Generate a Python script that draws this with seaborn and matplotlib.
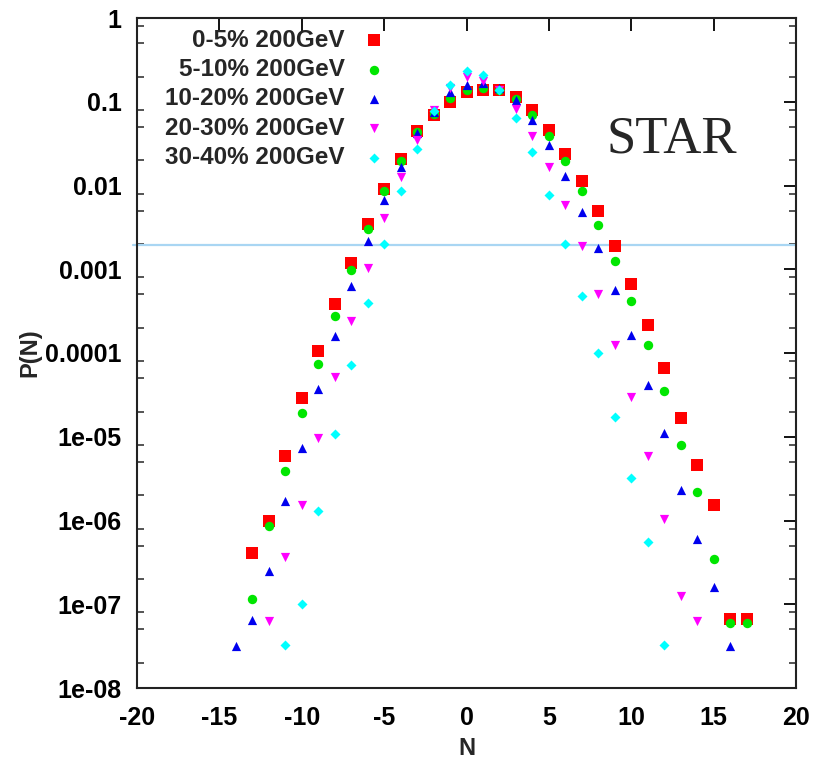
import matplotlib
matplotlib.use("Agg")
import matplotlib.pyplot as plt
import seaborn as sns
import pandas as pd
from matplotlib.ticker import FixedLocator, FixedFormatter, LogLocator, NullFormatter, NullLocator

# ---------------- data ----------------
labels = ["0-5% 200GeV", "5-10% 200GeV", "10-20% 200GeV", "20-30% 200GeV", "30-40% 200GeV"]

N_0_5 = list(range(-13, 18))
P_0_5 = [4.1e-7, 1.0e-6, 5.9e-6, 2.9e-5, 1.07e-4, 3.8e-4, 1.2e-3, 3.5e-3, 9.1e-3, 0.021,
         0.045, 0.0695, 0.10, 0.131, 0.138, 0.14, 0.115, 0.08, 0.046, 0.0237,
         0.0112, 4.9e-3, 1.87e-3, 6.6e-4, 2.14e-4, 6.6e-5, 1.66e-5, 4.6e-6, 1.55e-6, 6.6e-8,
         6.6e-8]

N_5_10 = list(range(-13, 18))
P_5_10 = [1.17e-7, 8.6e-7, 3.9e-6, 1.9e-5, 7.3e-5, 2.8e-4, 9.7e-4, 3.0e-3, 8.5e-3, 0.0194,
          0.043, 0.072, 0.11, 0.138, 0.145, 0.138, 0.108, 0.07, 0.039, 0.0194,
          8.7e-3, 3.4e-3, 1.25e-3, 4.2e-4, 1.25e-4, 3.5e-5, 8e-6, 2.2e-6, 3.5e-7, 5.9e-8,
          5.9e-8]

N_10_20 = list(range(-14, 17))
P_10_20 = [3.2e-8, 6.4e-8, 2.5e-7, 1.7e-6, 7.4e-6, 3.7e-5, 1.6e-4, 6.3e-4, 2.2e-3, 6.8e-3,
           0.0168, 0.042, 0.076, 0.131, 0.158, 0.166, 0.145, 0.105, 0.06, 0.0305,
           0.0129, 4.8e-3, 1.8e-3, 5.7e-4, 1.64e-4, 4.1e-5, 1.1e-5, 2.3e-6, 6e-7, 1.6e-7,
           3.2e-8]

N_20_30 = list(range(-12, 15))
P_20_30 = [6.3e-8, 3.7e-7, 1.55e-6, 9.7e-6, 5.1e-5, 2.4e-4, 1.04e-3, 4.1e-3, 0.0128, 0.035,
           0.08, 0.145, 0.195, 0.178, 0.14, 0.082, 0.039, 0.0165, 5.9e-3, 1.87e-3,
           5e-4, 1.25e-4, 2.95e-5, 5.9e-6, 1.05e-6, 1.25e-7, 6.3e-8]

N_30_40 = list(range(-11, 13))
P_30_40 = [3.3e-8, 1e-7, 1.3e-6, 1.07e-5, 7.1e-5, 3.9e-4, 2.0e-3, 8.5e-3, 0.027, 0.078,
           0.16, 0.235, 0.21, 0.138, 0.064, 0.025, 7.6e-3, 2.0e-3, 4.8e-4, 9.9e-5,
           1.7e-5, 3.2e-6, 5.5e-7, 3.3e-8]

x_ticks = [-20, -15, -10, -5, 0, 5, 10, 15, 20]
x_ticklabels = ["-20", "-15", "-10", "-5", "0", "5", "10", "15", "20"]
y_ticks = [1e-8, 1e-7, 1e-6, 1e-5, 1e-4, 1e-3, 1e-2, 1e-1, 1]
y_ticklabels = ["1e-08", "1e-07", "1e-06", "1e-05", "0.0001", "0.001", "0.01", "0.1", "1"]
line_level = 1.97e-3

# ---------------- style ----------------
sns.set_theme(style="white")
plt.rcParams["font.family"] = ["Liberation Sans", "DejaVu Sans"]
plt.rcParams["font.weight"] = "bold"
plt.rcParams["axes.unicode_minus"] = False

series = [
    (N_0_5, P_0_5, labels[0], "s", "#ff0000", 72),
    (N_5_10, P_5_10, labels[1], "o", "#00e600", 46),
    (N_10_20, P_10_20, labels[2], "^", "#0000ee", 44),
    (N_20_30, P_20_30, labels[3], "v", "#ff00ff", 44),
    (N_30_40, P_30_40, labels[4], "D", "#00ffff", 26),
]

fig = plt.figure(figsize=(8.18, 7.72), dpi=100)
ax = fig.add_axes([137 / 818, 1 - 688 / 772, (796 - 137) / 818, (688 - 18) / 772])

for xs, ys, lab, mk, col, sz in series:
    df = pd.DataFrame({"N": xs, "P": ys})
    sns.scatterplot(data=df, x="N", y="P", marker=mk, color=col, s=sz,
                    linewidth=0, label=lab, ax=ax, zorder=3)

ax.set_yscale("log")
ax.set_xlim(-20, 20)
ax.set_ylim(1e-8, 1)

ax.axhline(line_level, xmin=-0.006, xmax=1.0, color="#a9d6f3", lw=1.6,
           zorder=2, clip_on=False)

ax.xaxis.set_major_locator(FixedLocator(x_ticks))
ax.xaxis.set_major_formatter(FixedFormatter(x_ticklabels))
ax.xaxis.set_minor_locator(NullLocator())
ax.yaxis.set_major_locator(FixedLocator(y_ticks))
ax.yaxis.set_major_formatter(FixedFormatter(y_ticklabels))
ax.yaxis.set_minor_locator(LogLocator(base=10, subs=(2.0, 5.0, 8.0), numticks=20))
ax.yaxis.set_minor_formatter(NullFormatter())

ax.tick_params(axis="both", which="major", direction="in", length=9, width=1.3,
               top=True, right=True, labelsize=18, colors="black")
ax.tick_params(axis="y", which="major", pad=11)
ax.tick_params(axis="x", which="major", pad=13)
ax.tick_params(axis="y", which="minor", direction="in", length=5, width=1.1,
               left=True, right=True)
for lbl in ax.get_xticklabels() + ax.get_yticklabels():
    lbl.set_fontweight("bold")

for sp in ax.spines.values():
    sp.set_color("#222222")
    sp.set_linewidth(1.5)

ax.set_xlabel("N", fontsize=17, fontweight="bold", labelpad=5)
ax.set_ylabel("P(N)", fontsize=17, fontweight="bold", labelpad=3)

ax.text(0.812, 0.818, "STAR", transform=ax.transAxes, ha="center", va="center",
        fontsize=38, fontweight="normal", family=["Liberation Serif", "DejaVu Serif"])

leg = ax.legend(loc="upper right", bbox_to_anchor=(0.378, 0.984), frameon=False,
                markerfirst=False, handlelength=1.0, handletextpad=0.7,
                labelspacing=0.26, borderpad=0, borderaxespad=0,
                prop={"size": 17.5, "weight": "bold"})

fig.savefig("out.png", dpi=100)
